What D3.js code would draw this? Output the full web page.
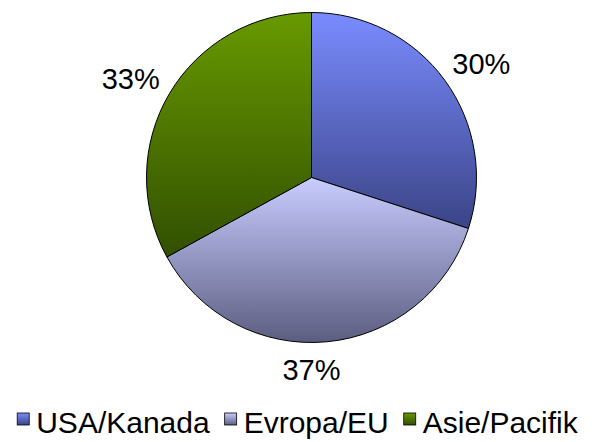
<!DOCTYPE html>
<meta charset="utf-8">
<script src="https://d3js.org/d3.v7.min.js"></script>
<style>
  body { margin: 0; background: #fff; }
  text { font-family: "Liberation Sans", Arial, sans-serif; fill: #000; }
</style>
<div id="my_dataviz"></div>
<script>

// data
var categories = ["USA/Kanada", "Evropa/EU", "Asie/Pacifik"];
var values = [30, 37, 33];
var labels = ["30%", "37%", "33%"];
// gradient colors (top, bottom) per slice
var topColors = ["#7a8cff", "#c9cdff", "#679a00"];
var bottomColors = ["#3a4486", "#5b5d80", "#324f00"];

var width = 595, height = 442;
var cx = 311.5, cy = 177.5, radius = 165;

var svg = d3.select("#my_dataviz")
  .append("svg")
    .attr("width", width)
    .attr("height", height);

// vertical gradients, one per category
var defs = svg.append("defs");
categories.forEach(function(c, i) {
  var g = defs.append("linearGradient")
    .attr("id", "grad" + i)
    .attr("x1", 0).attr("y1", 0).attr("x2", 0).attr("y2", 1);
  g.append("stop").attr("offset", "0%").attr("stop-color", topColors[i]);
  g.append("stop").attr("offset", "100%").attr("stop-color", bottomColors[i]);
});

var pie = d3.pie().sort(null).value(function(d) { return d; });
var arcs = pie(values);

var arc = d3.arc().innerRadius(0).outerRadius(radius);

var chart = svg.append("g")
  .attr("transform", "translate(" + cx + "," + cy + ")");

chart.selectAll("path")
  .data(arcs)
  .enter()
  .append("path")
    .attr("d", arc)
    .attr("fill", function(d, i) { return "url(#grad" + i + ")"; })
    .attr("stroke", "#000")
    .attr("stroke-width", 1);

// percent labels outside the pie
var rx = 210, ry = 193;
chart.selectAll(".lbl")
  .data(arcs)
  .enter()
  .append("text")
    .attr("class", "lbl")
    .attr("text-anchor", "middle")
    .attr("font-size", "29px")
    .attr("x", function(d) {
      var a = (d.startAngle + d.endAngle) / 2;
      var s = Math.sin(a);
      return Math.abs(s) > 0.3 ? s * rx : 0;
    })
    .attr("y", function(d) {
      var a = (d.startAngle + d.endAngle) / 2;
      return -Math.cos(a) * ry + 10;
    })
    .text(function(d, i) { return labels[i]; });

// legend
var legend = svg.append("g");
var items = legend.selectAll("g")
  .data(categories)
  .enter()
  .append("g");

items.append("rect")
  .attr("width", 12).attr("height", 12)
  .attr("y", -20)
  .attr("fill", function(d, i) { return "url(#grad" + i + ")"; })
  .attr("stroke", "#000")
  .attr("stroke-width", 0.8);

items.append("text")
  .attr("x", 19)
  .attr("font-size", "30px")
  .text(function(d) { return d; });

var xpos = 0;
items.each(function() {
  var t = d3.select(this).select("text").node().getComputedTextLength();
  d3.select(this).attr("transform", "translate(" + xpos + ",0)");
  xpos += 19 + t + 15;
});
var total = xpos - 15;
legend.attr("transform", "translate(" + ((width - total) / 2) + ",433)");

</script>
